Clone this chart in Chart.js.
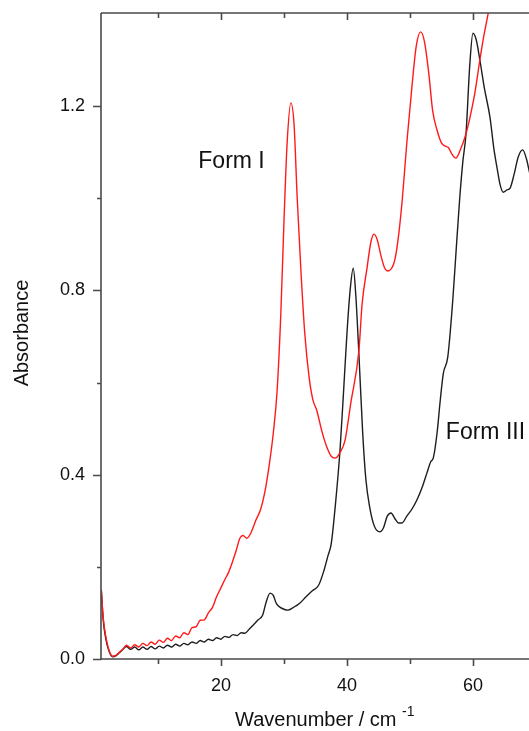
<!DOCTYPE html>
<html lang="en">
<head>
<meta charset="UTF-8">
<title>Absorbance spectra</title>
<script src="https://cdn.jsdelivr.net/npm/chart.js"></script>
<style>
    html, body { margin: 0; padding: 0; background: #fff; }
    #wrap { width: 529px; height: 731px; position: relative; }
</style>
</head>
<body>
<div id="wrap"><canvas id="spectrum" width="529" height="731"></canvas></div>
<script>
// Form I (red)
var formIx = [1.0, 1.3, 1.7, 2.2, 2.8, 3.3, 3.9, 4.5, 5.0, 5.65, 6.3, 6.95, 7.6, 8.25, 8.9, 9.55,
    10.2, 10.85, 11.5, 12.15, 12.8, 13.45, 14.1, 14.75, 15.4, 16.05, 16.7, 17.35, 18.0, 18.65,
    19.3, 20.0, 20.6, 21.2, 21.8, 22.4, 23.0, 23.5, 24.1, 24.8, 25.5, 26.3, 27.0, 27.7, 28.3,
    28.9, 29.5, 30.0, 30.5, 31.1, 31.6, 32.1, 32.7, 33.3, 34.0, 34.6, 35.2, 36.0, 36.8, 37.5,
    38.1, 38.9, 39.7, 40.6, 41.9, 42.4, 43.2, 43.8, 44.3, 44.8, 45.4, 46.0, 46.5, 47.1, 47.6,
    48.2, 48.8, 49.5, 50.3, 51.0, 51.7, 52.3, 53.0, 53.6, 54.3, 55.0, 55.6, 56.1, 56.7, 57.3,
    58.0, 58.9, 59.6, 60.3, 61.1, 61.7, 62.4, 63.0];
var formIy = [0.15, 0.09, 0.05, 0.02, 0.006, 0.008, 0.015, 0.022, 0.030, 0.024, 0.031, 0.026, 0.034, 0.029, 0.037, 0.032,
    0.041, 0.036, 0.045, 0.040, 0.050, 0.046, 0.057, 0.053, 0.068, 0.070, 0.084, 0.085, 0.100, 0.112,
    0.135, 0.155, 0.172, 0.188, 0.210, 0.235, 0.262, 0.268, 0.262, 0.275, 0.300, 0.325, 0.365, 0.425, 0.49,
    0.58, 0.75, 0.95, 1.12, 1.207, 1.16, 1.0, 0.84, 0.707, 0.61, 0.562, 0.54, 0.495, 0.46, 0.44,
    0.436, 0.448, 0.475, 0.555, 0.67, 0.77, 0.85, 0.905, 0.922, 0.91, 0.875, 0.848, 0.842, 0.848, 0.866,
    0.92, 1.0, 1.12, 1.24, 1.33, 1.361, 1.34, 1.27, 1.19, 1.148, 1.12, 1.113, 1.11, 1.095, 1.087,
    1.105, 1.14, 1.18, 1.228, 1.30, 1.35, 1.40, 1.45];

// Form III (black)
var formIIIx = [1.0, 1.3, 1.7, 2.2, 2.8, 3.3, 3.9, 4.5, 5.0, 5.65, 6.3, 6.95, 7.6, 8.25, 8.9, 9.55,
    10.2, 10.85, 11.5, 12.15, 12.8, 13.45, 14.1, 14.75, 15.4, 16.05, 16.7, 17.35, 18.0, 18.65,
    19.3, 19.95, 20.6, 21.25, 21.9, 22.55, 23.2, 23.8, 24.5, 25.2, 25.9, 26.6, 27.2, 27.8, 28.3,
    28.8, 29.4, 30.0, 30.6, 31.5, 32.5, 33.5, 34.5, 35.5, 36.3, 37.0, 37.5, 38.2, 38.9, 39.5,
    40.0, 40.5, 41.0, 41.4, 41.9, 42.5, 43.0, 43.6, 44.3, 45.2, 45.8, 46.4, 47.0, 47.6, 48.2,
    48.7, 49.5, 50.3, 51.1, 52.0, 52.7, 53.3, 53.7, 54.3, 54.8, 55.3, 56.0, 56.8, 57.3, 57.9,
    58.4, 58.9, 59.5, 60.0, 60.5, 61.1, 61.8, 62.7, 63.3, 63.8, 64.3, 64.8, 65.4, 65.9, 66.5,
    67.2, 67.9, 68.5, 69.0];
var formIIIy = [0.15, 0.085, 0.045, 0.018, 0.005, 0.007, 0.014, 0.022, 0.027, 0.021, 0.026, 0.020, 0.026, 0.021, 0.027, 0.022,
    0.028, 0.024, 0.030, 0.026, 0.032, 0.028, 0.034, 0.031, 0.037, 0.034, 0.040, 0.037, 0.043, 0.040,
    0.046, 0.043, 0.049, 0.047, 0.053, 0.051, 0.057, 0.056, 0.065, 0.075, 0.085, 0.095, 0.125, 0.143, 0.138,
    0.120, 0.112, 0.108, 0.106, 0.112, 0.121, 0.135, 0.148, 0.16, 0.19, 0.225, 0.25, 0.34, 0.454, 0.59,
    0.707, 0.80, 0.848, 0.79, 0.66, 0.49, 0.39, 0.33, 0.29, 0.276, 0.285, 0.31, 0.317, 0.305, 0.295,
    0.295, 0.31, 0.325, 0.345, 0.375, 0.404, 0.428, 0.436, 0.49, 0.56, 0.62, 0.655, 0.779, 0.88, 1.0,
    1.08, 1.14, 1.29, 1.358, 1.345, 1.30, 1.24, 1.176, 1.11, 1.068, 1.03, 1.013, 1.018, 1.022, 1.05,
    1.09, 1.105, 1.085, 1.055];

var xTicks = [10, 20, 30, 40, 50, 60];
var xLabeled = [20, 40, 60];
var yTicks = [0, 0.2, 0.4, 0.6, 0.8, 1.0, 1.2];
var yLabeled = [0, 0.4, 0.8, 1.2];

function toPoints(xs, ys) {
    return xs.map(function (x, i) { return { x: x, y: ys[i] }; });
}

var FONT = '"Liberation Sans", Arial, sans-serif';
var AXIS = '#4a4a4a';

// spines, inward/outward tick marks, curve labels and axis titles
var framePlugin = {
    id: 'frame',
    afterDraw: function (chart) {
        var ctx = chart.ctx;
        var a = chart.chartArea;
        var xs = chart.scales.x, ys = chart.scales.y;
        ctx.save();
        ctx.strokeStyle = AXIS;
        ctx.lineWidth = 1.6;
        ctx.beginPath();
        ctx.moveTo(a.left, a.top); ctx.lineTo(chart.width, a.top);
        ctx.moveTo(a.left, a.top); ctx.lineTo(a.left, a.bottom + 1);
        ctx.moveTo(a.left, a.bottom); ctx.lineTo(chart.width, a.bottom);
        xTicks.forEach(function (v) {
            var px = Math.round(xs.getPixelForValue(v)) + 0.5;
            var len = xLabeled.indexOf(v) >= 0 ? 7 : 5;
            ctx.moveTo(px, a.bottom); ctx.lineTo(px, a.bottom + len);
            ctx.moveTo(px, a.top); ctx.lineTo(px, a.top + len);
        });
        yTicks.forEach(function (v) {
            var py = Math.round(ys.getPixelForValue(v)) + 0.5;
            var len = yLabeled.indexOf(v) >= 0 ? 8 : 4;
            ctx.moveTo(a.left - len, py); ctx.lineTo(a.left, py);
        });
        ctx.stroke();

        ctx.fillStyle = '#111';
        ctx.textBaseline = 'alphabetic';
        ctx.textAlign = 'left';
        ctx.font = '23px ' + FONT;
        ctx.fillText('Form I', xs.getPixelForValue(16.4), ys.getPixelForValue(1.066));
        ctx.fillText('Form III', xs.getPixelForValue(55.7), ys.getPixelForValue(0.477));

        // x title with superscript
        ctx.font = '20px ' + FONT;
        var main = 'Wavenumber / cm ';
        ctx.fillText(main, 235, 726);
        var w = ctx.measureText(main).width;
        ctx.font = '14px ' + FONT;
        ctx.fillText('-1', 235 + w, 716);

        // y title
        ctx.font = '20px ' + FONT;
        ctx.translate(28, 333);
        ctx.rotate(-Math.PI / 2);
        ctx.textAlign = 'center';
        ctx.fillText('Absorbance', 0, 0);
        ctx.restore();
    }
};

new Chart(document.getElementById('spectrum'), {
    type: 'line',
    data: {
        datasets: [
            {
                label: 'Form I',
                data: toPoints(formIx, formIy),
                borderColor: '#ff1a1a',
                borderWidth: 1.4,
                pointRadius: 0,
                cubicInterpolationMode: 'monotone',
                fill: false
            },
            {
                label: 'Form III',
                data: toPoints(formIIIx, formIIIy),
                borderColor: '#1e1e1e',
                borderWidth: 1.4,
                pointRadius: 0,
                cubicInterpolationMode: 'monotone',
                fill: false
            }
        ]
    },
    options: {
        responsive: false,
        animation: false,
        devicePixelRatio: 1,
        layout: { padding: { top: 13, left: 0, right: 0, bottom: 0 } },
        plugins: {
            legend: { display: false },
            tooltip: { enabled: false }
        },
        scales: {
            x: {
                type: 'linear',
                min: 0.95,
                max: 68.9,
                grid: { display: false, drawTicks: false },
                border: { display: false },
                afterBuildTicks: function (s) { s.ticks = xTicks.map(function (v) { return { value: v }; }); },
                afterFit: function (s) {
                    s.height = 72;
                    s.paddingLeft = 0; s.paddingRight = 0;
                },
                ticks: {
                    padding: 16,
                    color: '#111',
                    font: { family: FONT, size: 18 },
                    maxRotation: 0,
                    callback: function (v) { return xLabeled.indexOf(v) >= 0 ? String(v) : ''; }
                }
            },
            y: {
                min: 0,
                max: 1.402,
                grid: { display: false, drawTicks: false },
                border: { display: false },
                afterBuildTicks: function (s) { s.ticks = yTicks.map(function (v) { return { value: v }; }); },
                afterFit: function (s) {
                    s.width = 101;
                    s.paddingTop = 0; s.paddingBottom = 0;
                },
                ticks: {
                    padding: 16,
                    color: '#111',
                    font: { family: FONT, size: 18 },
                    callback: function (v) {
                        var hit = yLabeled.some(function (t) { return Math.abs(t - v) < 1e-6; });
                        return hit ? v.toFixed(1) : '';
                    }
                }
            }
        }
    },
    plugins: [framePlugin]
});
</script>
</body>
</html>
